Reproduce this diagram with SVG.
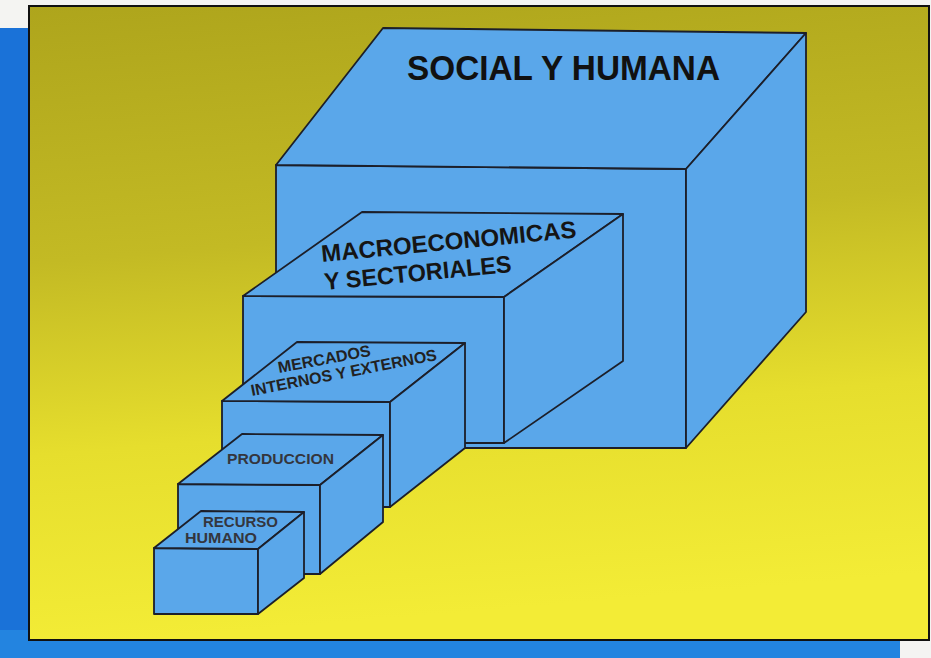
<svg xmlns="http://www.w3.org/2000/svg" width="931" height="658" viewBox="0 0 931 658">
  <defs>
    <linearGradient id="bg" x1="0" y1="0" x2="0.12" y2="1">
      <stop offset="0" stop-color="#aea51c"/>
      <stop offset="0.4" stop-color="#c3ba24"/>
      <stop offset="0.7" stop-color="#e6de2d"/>
      <stop offset="1" stop-color="#f3ec36"/>
    </linearGradient>
    <style>
      .face { fill: #5aa7ea; stroke: #1c1f2a; stroke-width: 1.8; stroke-linejoin: round; }
      .lbl { font-family: "Liberation Sans", Arial, sans-serif; font-weight: bold; }
    </style>
  </defs>

  <!-- page background -->
  <rect x="0" y="0" width="931" height="658" fill="#f4f4f2"/>
  <rect x="0" y="28" width="40" height="630" fill="#1a72d8"/>
  <rect x="0" y="630" width="900" height="28" fill="#2384e0"/>

  <!-- panel -->
  <rect x="29" y="6" width="900" height="634" fill="url(#bg)" stroke="#111" stroke-width="2"/>

  <g id="box-social">
    <polygon class="face" points="276,165 686,169 686,448 276,448"/>
    <polygon class="face" points="383,28 806,33 686,169 276,165"/>
    <polygon class="face" points="686,169 806,33 806,312 686,448"/>
    <text class="lbl" x="407" y="80" font-size="35" fill="#111" textLength="313" lengthAdjust="spacingAndGlyphs">SOCIAL Y HUMANA</text>
  </g>

  <g id="box-macro">
    <polygon class="face" points="243,296 504,297 504,443 243,443"/>
    <polygon class="face" points="362,212 623,214 504,297 243,296"/>
    <polygon class="face" points="504,297 623,214 623,361 504,443"/>
    <text class="lbl" font-size="24" fill="#151515" transform="translate(322,262) rotate(-5.5)" textLength="256" lengthAdjust="spacingAndGlyphs">MACROECONOMICAS</text>
    <text class="lbl" font-size="24" fill="#151515" transform="translate(325,290) rotate(-5.5)" textLength="188" lengthAdjust="spacingAndGlyphs">Y SECTORIALES</text>
  </g>

  <g id="box-mercados">
    <polygon class="face" points="222,401 390,402 390,507 222,507"/>
    <polygon class="face" points="297,342 465,343 390,402 222,401"/>
    <polygon class="face" points="390,402 465,343 465,448 390,507"/>
    <text class="lbl" font-size="16" fill="#222" transform="translate(279,373) rotate(-10.5)" textLength="94" lengthAdjust="spacingAndGlyphs">MERCADOS</text>
    <text class="lbl" font-size="16" fill="#222" transform="translate(252,396) rotate(-11)" textLength="189" lengthAdjust="spacingAndGlyphs">INTERNOS Y EXTERNOS</text>
  </g>

  <g id="box-produccion">
    <polygon class="face" points="178,484 320,485 320,574 178,574"/>
    <polygon class="face" points="242,434 383,435 320,485 178,484"/>
    <polygon class="face" points="320,485 383,435 383,522 320,574"/>
    <text class="lbl" x="227" y="464" font-size="15.5" fill="#34363e" textLength="107" lengthAdjust="spacingAndGlyphs">PRODUCCION</text>
  </g>

  <g id="box-recurso">
    <polygon class="face" points="154,548 258,549 258,614 154,614"/>
    <polygon class="face" points="201,511 304,512 258,549 154,548"/>
    <polygon class="face" points="258,549 304,512 304,578 258,614"/>
    <text class="lbl" x="203" y="527" font-size="15.5" fill="#34363e" textLength="75" lengthAdjust="spacingAndGlyphs">RECURSO</text>
    <text class="lbl" x="185" y="543" font-size="15.5" fill="#34363e" textLength="72" lengthAdjust="spacingAndGlyphs">HUMANO</text>
  </g>
</svg>
